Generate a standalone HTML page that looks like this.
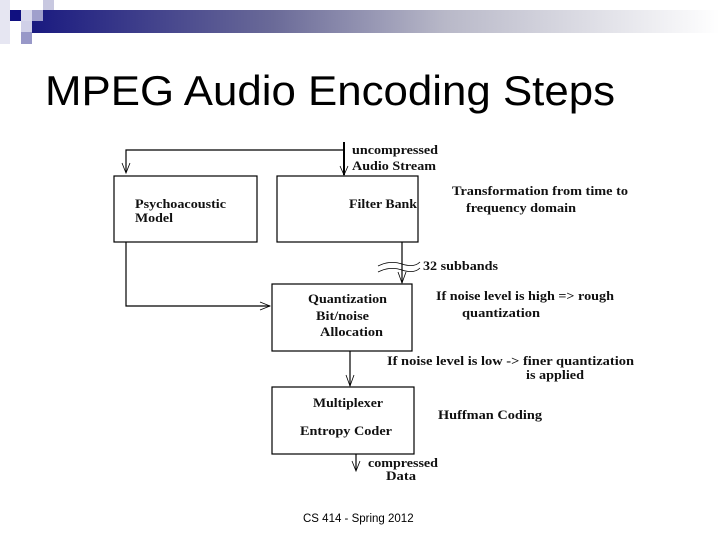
<!DOCTYPE html>
<html><head><meta charset="utf-8"><style>
html,body{margin:0;padding:0;background:#fff}
svg{display:block}
.t{font-family:"Liberation Serif",serif;font-weight:bold;font-size:13px;fill:#111}
</style></head><body>
<svg width="720" height="540" viewBox="0 0 720 540" xmlns="http://www.w3.org/2000/svg">
<defs>
<linearGradient id="g" x1="0" x2="1" y1="0" y2="0">
<stop offset="0" stop-color="#1a1a80"/>
<stop offset="0.35" stop-color="#6a6a98"/>
<stop offset="0.6" stop-color="#b8b8c8"/>
<stop offset="1" stop-color="#ffffff"/>
</linearGradient>
</defs>
<rect x="32" y="10" width="688" height="23" fill="url(#g)"/>
<rect x="0" y="0" width="10" height="44" fill="#e6e6f2"/>
<rect x="10" y="10" width="11" height="11" fill="#101080"/>
<rect x="21" y="10" width="11" height="11" fill="#d8d8ec"/>
<rect x="32" y="10" width="11" height="11" fill="#a0a0cc"/>
<rect x="43" y="0" width="11" height="10" fill="#c8c8e0"/>
<rect x="21" y="21" width="11" height="11" fill="#d0d0e8"/>
<rect x="21" y="32" width="11" height="12" fill="#9898c8"/>
<text x="45" y="105" font-family="Liberation Sans,sans-serif" font-size="42" textLength="570" lengthAdjust="spacingAndGlyphs" fill="#000">MPEG Audio Encoding Steps</text>

<g stroke="#000" stroke-width="1.2" fill="none">
<rect x="114" y="176" width="143" height="66"/>
<rect x="277" y="176" width="141" height="66"/>
<rect x="272" y="284" width="140" height="67"/>
<rect x="272" y="387" width="142" height="67"/>
<path d="M126 172 V150 H344"/>
<path d="M344 142 V175" stroke-width="2"/>
<path d="M126 242 V306 H270"/>
<path d="M402 242 V283"/>
<path d="M350 351 V386"/>
<path d="M356 454 V470"/>
<path d="M122 163 L126 173 L130 163 M340 166 L344 175 L348 166 M398 272 L402 283 L406 272 M260 302 L270 306 L260 310 M346 375 L350 386 L354 375 M352 461 L356 471 L360 461" stroke-width="0.8"/>
<path d="M378 266 Q390 260 402 264 T420 262 M378 272 Q390 266 402 270 T420 268" stroke-width="0.8"/>
</g>
<g class="t" lengthAdjust="spacingAndGlyphs">
<text class="t" lengthAdjust="spacingAndGlyphs" x="352" y="154" textLength="86">uncompressed</text>
<text class="t" lengthAdjust="spacingAndGlyphs" x="352" y="170" textLength="84">Audio Stream</text>
<text class="t" lengthAdjust="spacingAndGlyphs" x="135" y="208" textLength="91">Psychoacoustic</text>
<text class="t" lengthAdjust="spacingAndGlyphs" x="135" y="222" textLength="38">Model</text>
<text class="t" lengthAdjust="spacingAndGlyphs" x="349" y="208" textLength="68">Filter Bank</text>
<text class="t" lengthAdjust="spacingAndGlyphs" x="452" y="195" textLength="176">Transformation from time to</text>
<text class="t" lengthAdjust="spacingAndGlyphs" x="466" y="212" textLength="110">frequency domain</text>
<text class="t" lengthAdjust="spacingAndGlyphs" x="423" y="270" textLength="75">32 subbands</text>
<text class="t" lengthAdjust="spacingAndGlyphs" x="308" y="303" textLength="79">Quantization</text>
<text class="t" lengthAdjust="spacingAndGlyphs" x="316" y="320" textLength="53">Bit/noise</text>
<text class="t" lengthAdjust="spacingAndGlyphs" x="320" y="336" textLength="63">Allocation</text>
<text class="t" lengthAdjust="spacingAndGlyphs" x="436" y="300" textLength="178">If noise level is high =&gt; rough</text>
<text class="t" lengthAdjust="spacingAndGlyphs" x="462" y="317" textLength="78">quantization</text>
<text class="t" lengthAdjust="spacingAndGlyphs" x="387" y="365" textLength="247">If noise level is low -&gt; finer quantization</text>
<text class="t" lengthAdjust="spacingAndGlyphs" x="526" y="379" textLength="58">is applied</text>
<text class="t" lengthAdjust="spacingAndGlyphs" x="313" y="407" textLength="70">Multiplexer</text>
<text class="t" lengthAdjust="spacingAndGlyphs" x="300" y="435" textLength="92">Entropy Coder</text>
<text class="t" lengthAdjust="spacingAndGlyphs" x="438" y="419" textLength="104">Huffman Coding</text>
<text class="t" lengthAdjust="spacingAndGlyphs" x="368" y="467" textLength="70">compressed</text>
<text class="t" lengthAdjust="spacingAndGlyphs" x="386" y="480" textLength="30">Data</text>
</g>
<text x="303" y="522" font-family="Liberation Sans,sans-serif" font-size="11.5" fill="#000">CS 414 - Spring 2012</text>
</svg>
</body></html>
